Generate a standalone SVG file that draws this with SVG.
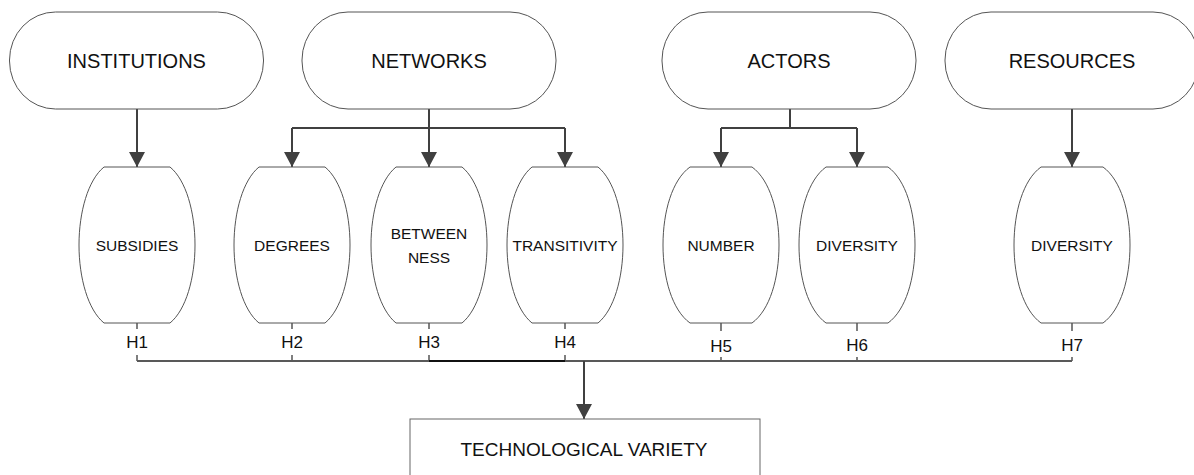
<svg xmlns="http://www.w3.org/2000/svg" width="1194" height="475" viewBox="0 0 1194 475">
<style>
.pill{fill:#fff;stroke:#555;stroke-width:1}
.barrel{fill:#fff;stroke:#555;stroke-width:1}
.box{fill:#fff;stroke:#666;stroke-width:1}
.t{font-family:"Liberation Sans",Arial,sans-serif;fill:#111;text-anchor:middle}
.top{font-size:20px}
.mid{font-size:15.5px}
.h{font-size:17px}
.big{font-size:19px}
.arr{fill:none;stroke:#404040;stroke-width:2}
.tick{fill:none;stroke:#555;stroke-width:1.5}
.bus{fill:none;stroke:#595959;stroke-width:2}
</style>
<defs>
<marker id="ah" markerUnits="userSpaceOnUse" markerWidth="15" markerHeight="16" viewBox="0 0 15 16" refX="15" refY="8" orient="auto">
<path d="M0,0 L15,8 L0,16 Z" fill="#404040"/>
</marker>
</defs>
<rect width="1194" height="475" fill="#fff"/>

<g id="connectors">
<path class="arr" d="M137,109 V167" marker-end="url(#ah)"/>
<path class="arr" d="M429,109 V128"/>
<path class="arr" d="M292,128 H565"/>
<path class="arr" d="M292,128 V167" marker-end="url(#ah)"/>
<path class="arr" d="M429,128 V167" marker-end="url(#ah)"/>
<path class="arr" d="M565,128 V167" marker-end="url(#ah)"/>
<path class="arr" d="M790,109 V128"/>
<path class="arr" d="M721,128 H857"/>
<path class="arr" d="M721,128 V167" marker-end="url(#ah)"/>
<path class="arr" d="M857,128 V167" marker-end="url(#ah)"/>
<path class="arr" d="M1072,109 V167" marker-end="url(#ah)"/>
<path class="tick" d="M137,323 V329 M292,323 V329 M429,323 V329 M565,323 V329 M721,323 V331 M857,323 V331 M1072,323 V331"/>
<path class="tick" d="M137,355 V361 M292,355 V361 M429,355 V361 M565,355 V361 M721,357 V361 M857,357 V361 M1072,357 V361"/>
<path class="bus" d="M137,361 H1072"/>
<path d="M429,361 H565" fill="none" stroke="#111" stroke-width="2"/>
<path class="arr" d="M584,361 V419" marker-end="url(#ah)"/>
<g class="t h">
<text x="137" y="348">H1</text>
<text x="292" y="348">H2</text>
<text x="429" y="348">H3</text>
<text x="565" y="348">H4</text>
<text x="721" y="352">H5</text>
<text x="857" y="351">H6</text>
<text x="1072" y="351">H7</text>
</g>
</g>

<g id="institutions"><rect class="pill" x="9.5" y="12" width="254" height="97" rx="46" ry="48"/><text class="t top" x="136.5" y="68">INSTITUTIONS</text></g>
<g id="networks"><rect class="pill" x="302" y="12" width="254" height="97" rx="46" ry="48"/><text class="t top" x="429" y="68">NETWORKS</text></g>
<g id="actors"><rect class="pill" x="662" y="12" width="254" height="97" rx="46" ry="48"/><text class="t top" x="789" y="68">ACTORS</text></g>
<g id="resources"><rect class="pill" x="945" y="12" width="254" height="97" rx="46" ry="48"/><text class="t top" x="1072" y="68">RESOURCES</text></g>

<g id="subsidies"><path class="barrel" d="M104,167 H170 C186,180 195,212 195,245 C195,278 186,310 170,323 H104 C88,310 79,278 79,245 C79,212 88,180 104,167 Z"/><text class="t mid" x="137" y="251">SUBSIDIES</text></g>
<g id="degrees"><path class="barrel" d="M259,167 H325 C341,180 350,212 350,245 C350,278 341,310 325,323 H259 C243,310 234,278 234,245 C234,212 243,180 259,167 Z"/><text class="t mid" x="292" y="251">DEGREES</text></g>
<g id="betweenness"><path class="barrel" d="M396,167 H462 C478,180 487,212 487,245 C487,278 478,310 462,323 H396 C380,310 371,278 371,245 C371,212 380,180 396,167 Z"/><text class="t mid" x="429" y="239">BETWEEN</text><text class="t mid" x="429" y="263">NESS</text></g>
<g id="transitivity"><path class="barrel" d="M532,167 H598 C614,180 623,212 623,245 C623,278 614,310 598,323 H532 C516,310 507,278 507,245 C507,212 516,180 532,167 Z"/><text class="t mid" x="565" y="251">TRANSITIVITY</text></g>
<g id="number"><path class="barrel" d="M690,167 H752 C770,180 779,212 779,245 C779,278 770,310 752,323 H690 C672,310 663,278 663,245 C663,212 672,180 690,167 Z"/><text class="t mid" x="721" y="251">NUMBER</text></g>
<g id="diversity-actors"><path class="barrel" d="M826,167 H888 C906,180 915,212 915,245 C915,278 906,310 888,323 H826 C808,310 799,278 799,245 C799,212 808,180 826,167 Z"/><text class="t mid" x="857" y="251">DIVERSITY</text></g>
<g id="diversity-resources"><path class="barrel" d="M1041,167 H1103 C1121,180 1130,212 1130,245 C1130,278 1121,310 1103,323 H1041 C1023,310 1014,278 1014,245 C1014,212 1023,180 1041,167 Z"/><text class="t mid" x="1072" y="251">DIVERSITY</text></g>

<g id="technological-variety"><rect class="box" x="410" y="419" width="350" height="70"/><text class="t big" x="584" y="456">TECHNOLOGICAL VARIETY</text></g>
</svg>
